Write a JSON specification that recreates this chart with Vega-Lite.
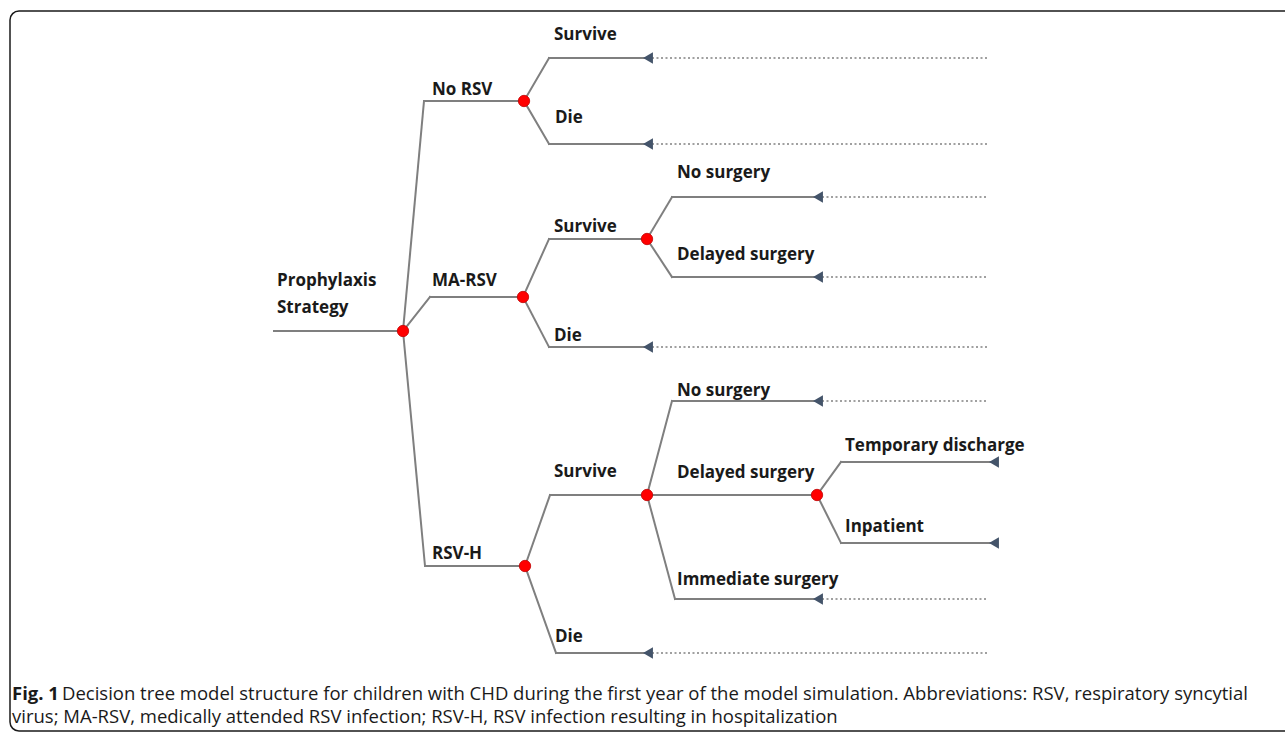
{
  "$schema": "https://vega.github.io/schema/vega-lite/v6.json",
  "width": 1285,
  "height": 732,
  "autosize": {"type": "none"},
  "padding": 0,
  "background": "white",
  "config": {"view": {"stroke": null}},
  "datasets": {
    "frame": [{"x": 10, "x2": 1300, "y": 11, "y2": 731}],
    "segs": [
      {"x": 274, "y": 331, "x2": 403, "y2": 331},
      {"x": 403, "y": 331, "x2": 424, "y2": 101},
      {"x": 424, "y": 101, "x2": 524, "y2": 101},
      {"x": 403, "y": 331, "x2": 430, "y2": 297},
      {"x": 430, "y": 297, "x2": 523, "y2": 297},
      {"x": 403, "y": 331, "x2": 425, "y2": 566},
      {"x": 425, "y": 566, "x2": 525, "y2": 566},
      {"x": 524, "y": 101, "x2": 549, "y2": 58},
      {"x": 549, "y": 58, "x2": 645, "y2": 58},
      {"x": 524, "y": 101, "x2": 549, "y2": 144},
      {"x": 549, "y": 144, "x2": 645, "y2": 144},
      {"x": 523, "y": 297, "x2": 549, "y2": 239},
      {"x": 549, "y": 239, "x2": 647, "y2": 239},
      {"x": 523, "y": 297, "x2": 549, "y2": 347},
      {"x": 549, "y": 347, "x2": 645, "y2": 347},
      {"x": 647, "y": 239, "x2": 672, "y2": 197},
      {"x": 672, "y": 197, "x2": 815, "y2": 197},
      {"x": 647, "y": 239, "x2": 672, "y2": 277},
      {"x": 672, "y": 277, "x2": 815, "y2": 277},
      {"x": 525, "y": 566, "x2": 550, "y2": 495},
      {"x": 550, "y": 495, "x2": 647, "y2": 495},
      {"x": 525, "y": 566, "x2": 556, "y2": 653},
      {"x": 556, "y": 653, "x2": 645, "y2": 653},
      {"x": 647, "y": 495, "x2": 672, "y2": 401},
      {"x": 672, "y": 401, "x2": 815, "y2": 401},
      {"x": 647, "y": 495, "x2": 817, "y2": 495},
      {"x": 647, "y": 495, "x2": 675, "y2": 599},
      {"x": 675, "y": 599, "x2": 815, "y2": 599},
      {"x": 817, "y": 495, "x2": 841, "y2": 462},
      {"x": 841, "y": 462, "x2": 990, "y2": 462},
      {"x": 817, "y": 495, "x2": 841, "y2": 543},
      {"x": 841, "y": 543, "x2": 990, "y2": 543}
    ],
    "dots": [
      {"x": 652, "y": 58, "x2": 987, "y2": 58},
      {"x": 652, "y": 144, "x2": 987, "y2": 144},
      {"x": 652, "y": 347, "x2": 987, "y2": 347},
      {"x": 652, "y": 653, "x2": 987, "y2": 653},
      {"x": 822, "y": 197, "x2": 987, "y2": 197},
      {"x": 822, "y": 277, "x2": 987, "y2": 277},
      {"x": 822, "y": 401, "x2": 987, "y2": 401},
      {"x": 822, "y": 599, "x2": 987, "y2": 599}
    ],
    "arrows": [
      {"x": 648, "y": 58}, {"x": 648, "y": 144}, {"x": 648, "y": 347}, {"x": 648, "y": 653},
      {"x": 818, "y": 197}, {"x": 818, "y": 277}, {"x": 818, "y": 401}, {"x": 818, "y": 599},
      {"x": 994, "y": 462}, {"x": 994, "y": 543}
    ],
    "nodes": [
      {"x": 403, "y": 331}, {"x": 524, "y": 101}, {"x": 523, "y": 297}, {"x": 525, "y": 566},
      {"x": 647, "y": 239}, {"x": 647, "y": 495}, {"x": 817, "y": 495}
    ],
    "labels": [
      {"x": 277, "y": 281, "t": "Prophylaxis"},
      {"x": 277, "y": 308, "t": "Strategy"},
      {"x": 432, "y": 90, "t": "No RSV"},
      {"x": 554, "y": 35, "t": "Survive"},
      {"x": 555, "y": 118, "t": "Die"},
      {"x": 432, "y": 281, "t": "MA-RSV"},
      {"x": 554, "y": 227, "t": "Survive"},
      {"x": 554, "y": 336, "t": "Die"},
      {"x": 677, "y": 173, "t": "No surgery"},
      {"x": 677, "y": 255, "t": "Delayed surgery"},
      {"x": 432, "y": 554, "t": "RSV-H"},
      {"x": 554, "y": 472, "t": "Survive"},
      {"x": 555, "y": 637, "t": "Die"},
      {"x": 677, "y": 391, "t": "No surgery"},
      {"x": 677, "y": 473, "t": "Delayed surgery"},
      {"x": 845, "y": 446, "t": "Temporary discharge"},
      {"x": 845, "y": 527, "t": "Inpatient"},
      {"x": 677, "y": 580, "t": "Immediate surgery"}
    ],
    "capBold": [{"x": 12, "y": 694, "t": "Fig. 1"}],
    "capText": [
      {"x": 62, "y": 694, "t": "Decision tree model structure for children with CHD during the first year of the model simulation. Abbreviations: RSV, respiratory syncytial"},
      {"x": 12, "y": 717, "t": "virus; MA-RSV, medically attended RSV infection; RSV-H, RSV infection resulting in hospitalization"}
    ]
  },
  "encoding": {
    "x": {"field": "x", "type": "quantitative", "scale": {"domain": [0, 1285], "range": [0, 1285], "nice": false, "zero": false}, "axis": null},
    "y": {"field": "y", "type": "quantitative", "scale": {"domain": [0, 732], "range": [0, 732], "nice": false, "zero": false}, "axis": null}
  },
  "layer": [
    {
      "data": {"name": "frame"},
      "mark": {"type": "rect", "fill": null, "fillOpacity": 0, "stroke": "#1a1a1a", "strokeWidth": 1.5, "cornerRadius": 9, "clip": false},
      "encoding": {"x2": {"field": "x2"}, "y2": {"field": "y2"}}
    },
    {
      "data": {"name": "dots"},
      "mark": {"type": "rule", "stroke": "#a0a0a0", "strokeWidth": 2, "strokeDash": [2, 2.5]},
      "encoding": {"x2": {"field": "x2"}, "y2": {"field": "y2"}}
    },
    {
      "data": {"name": "segs"},
      "mark": {"type": "rule", "stroke": "#7f7f7f", "strokeWidth": 2, "strokeCap": "square"},
      "encoding": {"x2": {"field": "x2"}, "y2": {"field": "y2"}}
    },
    {
      "data": {"name": "arrows"},
      "mark": {"type": "point", "shape": "triangle-left", "filled": true, "fill": "#44546a", "opacity": 1, "size": 130, "strokeWidth": 0}
    },
    {
      "data": {"name": "nodes"},
      "mark": {"type": "point", "shape": "circle", "filled": true, "fill": "#ff0000", "stroke": "#c00000", "strokeWidth": 0.8, "opacity": 1, "size": 130}
    },
    {
      "data": {"name": "labels"},
      "mark": {"type": "text", "align": "left", "baseline": "middle", "font": "Open Sans", "fontWeight": "bold", "fontSize": 17, "fill": "#1a1a1a"},
      "encoding": {"text": {"field": "t"}}
    },
    {
      "data": {"name": "capBold"},
      "mark": {"type": "text", "align": "left", "baseline": "middle", "font": "Open Sans", "fontWeight": "bold", "fontSize": 18.5, "fill": "#1a1a1a"},
      "encoding": {"text": {"field": "t"}}
    },
    {
      "data": {"name": "capText"},
      "mark": {"type": "text", "align": "left", "baseline": "middle", "font": "Open Sans", "fontSize": 18.5, "fill": "#1a1a1a"},
      "encoding": {"text": {"field": "t"}}
    }
  ]
}
